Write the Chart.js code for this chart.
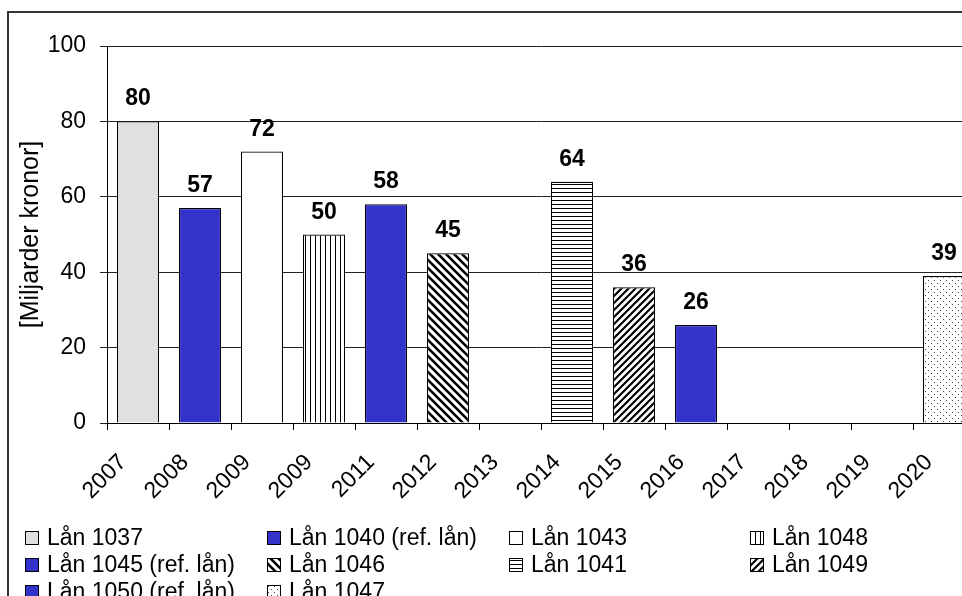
<!DOCTYPE html>
<html>
<head>
<meta charset="utf-8">
<title>Lån – förfall per år</title>
<script src="https://cdn.jsdelivr.net/npm/chart.js@4/dist/chart.umd.min.js"></script>
<style>
  html, body { margin: 0; padding: 0; background: #fff; overflow: hidden; }
  #wrap { position: absolute; left: 0; top: 0; width: 1000px; height: 620px; }
</style>
</head>
<body>
<div id="wrap"><canvas id="chart" width="1000" height="620"></canvas></div>
<script>
// Maturity years on the x axis (note: two loans fall due in 2009)
const years = ['2007', '2008', '2009', '2009', '2011', '2012', '2013', '2014', '2015', '2016', '2017', '2018', '2019', '2020'];
// One loan per bar
const loanNames = ['Lån 1037', 'Lån 1040 (ref. lån)', 'Lån 1043', 'Lån 1048', 'Lån 1045 (ref. lån)',
                   'Lån 1046', 'Lån 1041', 'Lån 1049', 'Lån 1050 (ref. lån)', 'Lån 1047'];
// Index into `years` where each loan sits
const loanSlots = [0, 1, 2, 3, 4, 5, 7, 8, 9, 13];
// Outstanding amount, billion SEK
const loanAmounts = [80, 57, 72, 50, 58, 45, 64, 36, 26, 39];
// Fill style per loan
const loanFills = ['gray', 'blue', 'white', 'vert', 'blue', 'diagDown', 'horiz', 'diagUp', 'blue', 'dots'];
const yTicks = [0, 20, 40, 60, 80, 100];

const FONT = "'Liberation Sans', Arial, sans-serif";

function tile(w, h, draw) {
  const c = document.createElement('canvas');
  c.width = w; c.height = h;
  const g = c.getContext('2d');
  g.fillStyle = '#fff';
  g.fillRect(0, 0, w, h);
  draw(g, w, h);
  return c.getContext('2d').createPattern(c, 'repeat');
}

function makeFill(kind) {
  switch (kind) {
    case 'gray': return '#e0e0e0';
    case 'blue': return '#3333cc';
    case 'white': return '#ffffff';
    case 'vert': return tile(5, 5, (g) => { g.fillStyle = '#000'; g.fillRect(0, 0, 1, 5); });
    case 'horiz': return tile(4, 4, (g) => { g.fillStyle = '#000'; g.fillRect(0, 0, 4, 1); });
    case 'diagDown': return tile(8, 8, (g, w, h) => {
      g.strokeStyle = '#000'; g.lineWidth = 2.6;
      g.beginPath();
      g.moveTo(-2, -2); g.lineTo(w + 2, h + 2);
      g.moveTo(-2, h - 2); g.lineTo(2, h + 2);
      g.moveTo(w - 2, -2); g.lineTo(w + 2, 2);
      g.stroke();
    });
    case 'diagUp': return tile(7, 7, (g, w, h) => {
      g.strokeStyle = '#000'; g.lineWidth = 2.2;
      g.beginPath();
      g.moveTo(-2, h + 2); g.lineTo(w + 2, -2);
      g.moveTo(-2, 2); g.lineTo(2, -2);
      g.moveTo(w - 2, h + 2); g.lineTo(w + 2, h - 2);
      g.stroke();
    });
    case 'dots': return tile(6, 6, (g) => {
      g.fillStyle = '#444';
      g.fillRect(1, 1, 1, 1);
      g.fillRect(4, 4, 1, 1);
    });
  }
  return '#888';
}

const fills = loanFills.map(makeFill);

const datasets = loanNames.map((name, i) => {
  const data = years.map(() => null);
  data[loanSlots[i]] = loanAmounts[i];
  return {
    label: name,
    data: data,
    backgroundColor: fills[i],
    borderColor: '#000',
    borderWidth: 1.2,
    grouped: false,
    barPercentage: 0.68,
    categoryPercentage: 1
  };
});

// White page and the outer frame around the whole chart
const framePlugin = {
  id: 'frame',
  beforeDraw(chart) {
    const ctx = chart.ctx;
    ctx.save();
    ctx.fillStyle = '#fff';
    ctx.fillRect(0, 0, chart.width, chart.height);
    ctx.strokeStyle = '#333';
    ctx.lineWidth = 2;
    ctx.strokeRect(8, 12, chart.width + 50, chart.height + 50);
    ctx.restore();
  }
};

// Bold value above each bar
const valueLabels = {
  id: 'valueLabels',
  afterDatasetsDraw(chart) {
    const ctx = chart.ctx;
    ctx.save();
    ctx.font = 'bold 23px ' + FONT;
    ctx.fillStyle = '#000';
    ctx.textAlign = 'center';
    ctx.textBaseline = 'alphabetic';
    chart.data.datasets.forEach((ds, di) => {
      const meta = chart.getDatasetMeta(di);
      meta.data.forEach((el, idx) => {
        const v = ds.data[idx];
        if (v === null || v === undefined) return;
        ctx.fillText(String(v), el.x, el.y - 16);
      });
    });
    ctx.restore();
  }
};

// Legend laid out as a four-column grid under the axis
const gridLegend = {
  id: 'gridLegend',
  afterDraw(chart) {
    const ctx = chart.ctx;
    const colX = [25, 267, 509, 750];
    const rowY = [538, 565, 592];
    const box = 14;
    ctx.save();
    ctx.font = '23px ' + FONT;
    ctx.textBaseline = 'middle';
    ctx.textAlign = 'left';
    chart.data.datasets.forEach((ds, i) => {
      const x = colX[i % 4];
      const y = rowY[Math.floor(i / 4)];
      ctx.fillStyle = ds.backgroundColor;
      ctx.fillRect(x, y - box / 2, box, box);
      ctx.strokeStyle = '#000';
      ctx.lineWidth = 1;
      ctx.strokeRect(x + 0.5, y - box / 2 + 0.5, box - 1, box - 1);
      ctx.fillStyle = '#000';
      ctx.fillText(ds.label, x + 22, y + 1);
    });
    ctx.restore();
  }
};

new Chart(document.getElementById('chart'), {
  type: 'bar',
  data: { labels: years, datasets: datasets },
  options: {
    responsive: false,
    animation: false,
    devicePixelRatio: 1,
    layout: { padding: { top: 46, left: 0, right: 25, bottom: 117 } },
    plugins: {
      legend: { display: false },
      tooltip: { enabled: false },
      title: { display: false }
    },
    scales: {
      x: {
        type: 'category',
        offset: true,
        afterFit(scale) { scale.height = 80; },
        grid: {
          offset: true,
          drawOnChartArea: false,
          drawTicks: true,
          tickLength: 7,
          color: '#000',
          lineWidth: 1
        },
        border: { display: true, color: '#000', width: 1 },
        ticks: {
          autoSkip: false,
          maxRotation: 45,
          minRotation: 45,
          color: '#000',
          padding: 19,
          labelOffset: -15,
          font: { family: FONT, size: 23 }
        }
      },
      y: {
        min: 0,
        max: 100,
        afterFit(scale) { scale.width = 107; },
        afterBuildTicks(scale) { scale.ticks = yTicks.map(v => ({ value: v })); },
        grid: {
          color: '#222',
          lineWidth: 1,
          drawTicks: true,
          tickLength: 7
        },
        border: { display: true, color: '#000', width: 1 },
        ticks: {
          color: '#000',
          padding: 14,
          font: { family: FONT, size: 23 }
        },
        title: {
          display: true,
          text: '[Miljarder kronor]',
          color: '#000',
          padding: { top: 16, bottom: 0 },
          font: { family: FONT, size: 25 }
        }
      }
    }
  },
  plugins: [framePlugin, valueLabels, gridLegend]
});
</script>
</body>
</html>
